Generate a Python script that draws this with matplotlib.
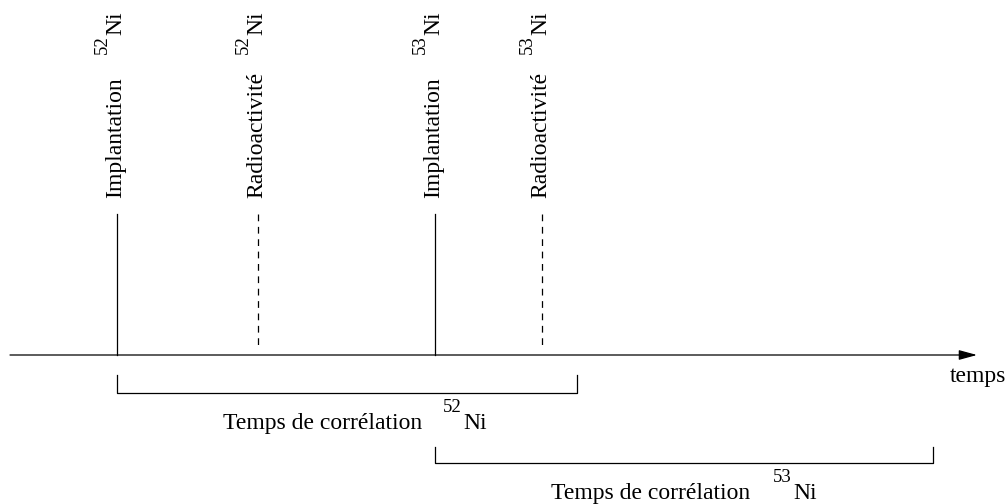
import matplotlib
matplotlib.use("Agg")
import matplotlib.pyplot as plt

# --- data (diagram coordinates in pixel-like units) ---
event_x = [117, 258, 435, 542]
event_labels = ["Implantation", "Radioactivité", "Implantation", "Radioactivité"]
event_mass = ["52", "52", "53", "53"]
event_dashed = [False, True, False, True]

window_start = [117, 435]
window_end = [577, 933]
window_mass = ["52", "53"]
window_label = "Temps de corrélation"
axis_label = "temps"

FONT = "Liberation Serif"
FS = 17
FS_SUP = 13.5

fig = plt.figure(figsize=(10.07, 5.04), dpi=100)
ax = fig.add_axes([0, 0, 1, 1])
ax.set_xlim(0, 1007)
ax.set_ylim(504, 0)
ax.axis("off")

lw = 0.9
axis_y = 355

# time axis with arrow
ax.annotate("", xy=(977, axis_y), xytext=(10, axis_y),
            arrowprops=dict(arrowstyle="-|>,head_length=1.1,head_width=0.3",
                            color="black", lw=lw, shrinkA=0, shrinkB=0))
ax.text(950, 382, axis_label, fontsize=FS, family=FONT, ha="left", va="baseline")

# events
for x, lab, m, dashed in zip(event_x, event_labels, event_mass, event_dashed):
    if dashed:
        ax.plot([x, x], [214, 350], color="black", lw=lw, dashes=(5.4, 4.5))
    else:
        ax.plot([x, x], [214, axis_y], color="black", lw=lw)
    ax.text(x - 1, 198, lab, fontsize=FS, family=FONT, rotation=90,
            ha="center", va="bottom")
    ax.text(x - 1, 35, "Ni", fontsize=FS, family=FONT, rotation=90,
            ha="center", va="bottom")
    ax.text(x - 15, 54, m, fontsize=FS_SUP, family=FONT, rotation=90,
            ha="center", va="bottom")

# correlation windows
bracket_top = [375, 447]
bracket_bot = [393, 463]
text_base = [429, 499]
text_x = [223, 551]
sup_x = [443, 773]
sup_base = [412, 482]
ni_x = [463, 793]
for i in range(len(window_start)):
    s, e = window_start[i], window_end[i]
    ax.plot([s, s, e, e], [bracket_top[i], bracket_bot[i], bracket_bot[i], bracket_top[i]],
            color="black", lw=lw)
    ax.text(text_x[i], text_base[i], window_label, fontsize=FS, family=FONT,
            ha="left", va="baseline")
    ax.text(sup_x[i], sup_base[i], window_mass[i], fontsize=FS_SUP, family=FONT,
            ha="left", va="baseline")
    ax.text(ni_x[i], text_base[i], "Ni", fontsize=FS, family=FONT,
            ha="left", va="baseline")

fig.savefig("out.png", dpi=100, facecolor="white")
